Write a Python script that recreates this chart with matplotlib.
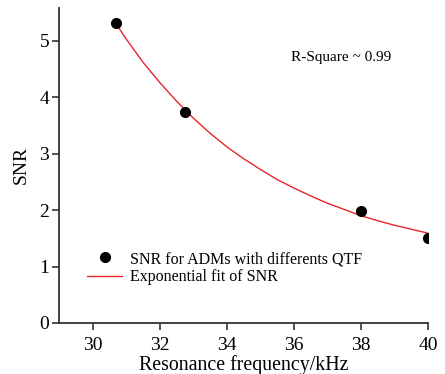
# SNR vs resonance frequency with exponential fit

import numpy as np
import matplotlib.pyplot as plt

# ── data ────────────────────────────────────────────
freq_khz = [30.7, 32.75, 38.0, 40.0]
snr = [5.32, 3.74, 1.99, 1.51]

# exponential fit curve
fit_x = [30.7, 31.0, 31.5, 32.0, 32.5, 33.0, 33.5, 34.0, 34.5, 35.0,
         35.5, 36.0, 36.5, 37.0, 37.5, 38.0, 38.5, 39.0, 39.5, 40.0]
fit_y = [5.30, 5.03, 4.62, 4.26, 3.93, 3.63, 3.36, 3.12, 2.91, 2.72,
         2.54, 2.39, 2.25, 2.12, 2.01, 1.90, 1.81, 1.73, 1.66, 1.59]

xticks = [30, 32, 34, 36, 38, 40]
yticks = [0, 1, 2, 3, 4, 5]

plt.rcParams["font.family"] = ["Liberation Serif", "DejaVu Serif"]

# ── plot ────────────────────────────────────────────
fig = plt.figure(figsize=(4.45, 3.74), dpi=100)
ax = fig.add_axes([0.1326, 0.1364, 0.8294, 0.8426])

ax.plot(freq_khz, snr, "o", color="black", markersize=7,
        label="SNR for ADMs with differents QTF", zorder=3)
ax.plot(fit_x, fit_y, color="#e8262a", linewidth=1.0,
        label="Exponential fit of SNR", zorder=2)

ax.set_xlim(29, 40)
ax.set_ylim(0, 5.58)
ax.set_xticks(xticks)
ax.set_yticks(yticks)

for s in ["top", "right"]:
    ax.spines[s].set_visible(False)
for s in ["left", "bottom"]:
    ax.spines[s].set_linewidth(1.3)
    ax.spines[s].set_color("#333333")
ax.tick_params(direction="out", length=5, width=1.2, color="#333333",
               labelsize=14)
ax.tick_params(axis="x", pad=5)
ax.tick_params(axis="y", pad=2)

ax.set_xlabel("Resonance frequency/kHz", fontsize=14.3, labelpad=1)
ax.set_ylabel("SNR", fontsize=14, labelpad=7)

ax.text(37.4, 4.70, "R-Square ~ 0.99", fontsize=11, ha="center", va="center")

ax.legend(loc="upper left", bbox_to_anchor=(87 / 445, 1 - 251 / 374),
          bbox_transform=fig.transFigure, frameon=False, fontsize=11.5,
          handlelength=2.2, handletextpad=0.5, borderpad=0, borderaxespad=0,
          labelspacing=0.15)

fig.savefig("out.png", dpi=100)
